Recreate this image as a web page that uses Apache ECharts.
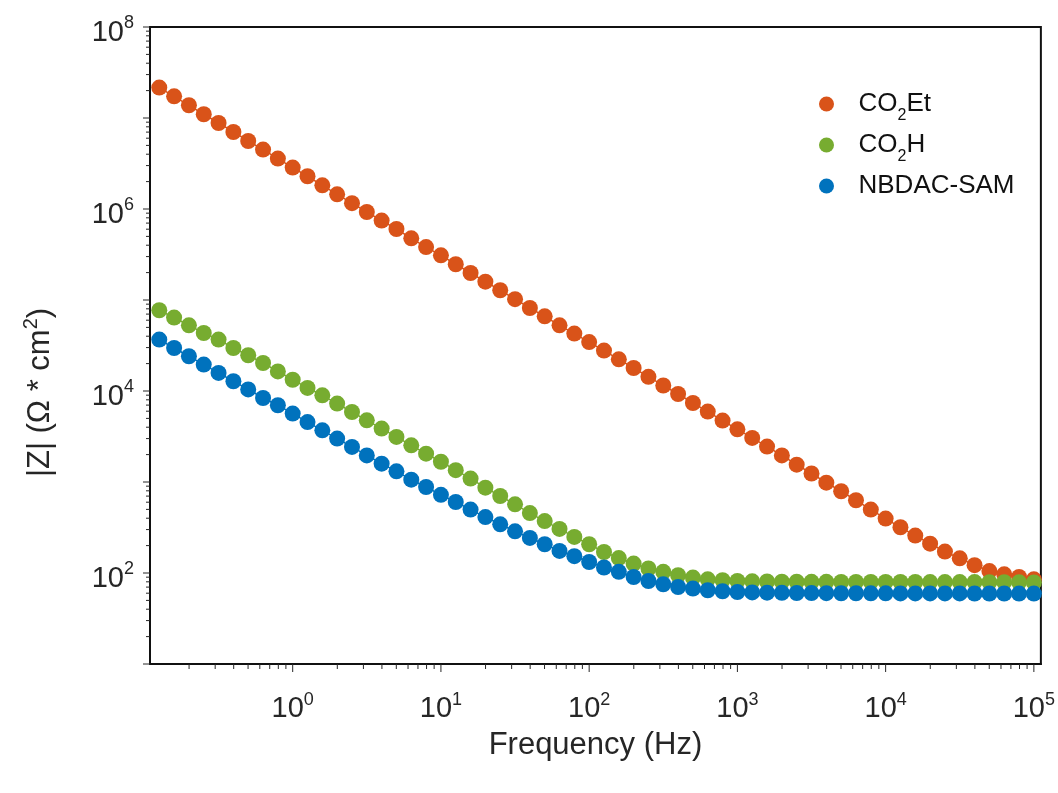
<!DOCTYPE html>
<html>
<head>
<meta charset="utf-8">
<script src="https://cdn.jsdelivr.net/npm/echarts@6/dist/echarts.min.js"></script>
<style>
html,body{margin:0;padding:0;background:#fff;}
#chart{width:1058px;height:793px;}
</style>
</head>
<body>
<div id="chart"></div>
<script>
// Frequency sweep (Hz)
const frequency = [
  0.1259, 0.1585, 0.1995, 0.2512, 0.3162, 0.3981, 0.5012, 0.6310, 0.7943, 1,
  1.259, 1.585, 1.995, 2.512, 3.162, 3.981, 5.012, 6.310, 7.943, 10,
  12.59, 15.85, 19.95, 25.12, 31.62, 39.81, 50.12, 63.10, 79.43, 100,
  125.9, 158.5, 199.5, 251.2, 316.2, 398.1, 501.2, 631.0, 794.3, 1000,
  1259, 1585, 1995, 2512, 3162, 3981, 5012, 6310, 7943, 10000,
  12589, 15849, 19953, 25119, 31623, 39811, 50119, 63096, 79433, 100000
];
// |Z| values (Ohm * cm^2)
const zCO2Et = [
  2.16e7, 1.73e7, 1.38e7, 1.10e7, 8.81e6, 7.02e6, 5.59e6, 4.50e6, 3.58e6, 2.85e6,
  2.29e6, 1.82e6, 1.45e6, 1.16e6, 9.27e5, 7.46e5, 6.03e5, 4.76e5, 3.82e5, 3.10e5,
  2.47e5, 1.98e5, 1.59e5, 1.28e5, 1.02e5, 8.17e4, 6.62e4, 5.27e4, 4.28e4, 3.45e4,
  2.78e4, 2.23e4, 1.79e4, 1.43e4, 1.15e4, 9.27e3, 7.38e3, 5.94e3, 4.73e3, 3.79e3,
  3.05e3, 2.45e3, 1.96e3, 1.55e3, 1.24e3, 984, 791, 630, 498, 396,
  318, 258, 210, 172, 145, 122, 105, 96.8, 90.4, 85.3
];
const zCO2H = [
  7.71e4, 6.41e4, 5.27e4, 4.34e4, 3.67e4, 2.97e4, 2.47e4, 2.03e4, 1.64e4, 1.33e4,
  1.08e4, 8.97e3, 7.28e3, 5.88e3, 4.76e3, 3.86e3, 3.13e3, 2.53e3, 2.05e3, 1.67e3,
  1.35e3, 1.09e3, 867, 702, 569, 456, 372, 305, 249, 207,
  170, 146, 127, 112, 103, 94.4, 89.0, 85.3, 83.2, 81.7,
  81.0, 80.6, 80.3, 80.1, 80.0, 79.9, 79.8, 79.8, 79.7, 79.7,
  79.6, 79.6, 79.5, 79.5, 79.4, 79.4, 79.3, 79.2, 79.0, 78.7
];
const zNBDAC = [
  3.67e4, 2.97e4, 2.41e4, 1.95e4, 1.58e4, 1.28e4, 1.04e4, 8.38e3, 6.97e3, 5.65e3,
  4.56e3, 3.70e3, 3.00e3, 2.43e3, 1.96e3, 1.59e3, 1.31e3, 1.06e3, 881, 723,
  603, 498, 412, 343, 287, 243, 207, 175, 153, 132,
  115, 103, 90.4, 81.7, 75.2, 70.2, 67.4, 64.6, 63.0, 61.8,
  61.2, 60.8, 60.5, 60.3, 60.1, 60.0, 59.9, 59.9, 59.8, 59.8,
  59.7, 59.7, 59.6, 59.6, 59.6, 59.5, 59.5, 59.5, 59.4, 59.4
];
const seriesNames = ['CO2Et', 'CO2H', 'NBDAC-SAM'];
const legendLabels = {'CO2Et': '{b|CO}{sub|2}{b|Et}', 'CO2H': '{b|CO}{sub|2}{b|H}', 'NBDAC-SAM': '{b|NBDAC-SAM}'};
const colors = ['#D95319', '#77AC30', '#0072BD'];
const xRange = [0.109, 111500];
const yRange = [10, 1e8];

const FONT = 'Liberation Sans, Arial, Helvetica, sans-serif';
const TXT = '#262626';

function pairs(ys) { return frequency.map((f, i) => [f, ys[i]]); }

function logTicks(lo, hi) {
  const out = [];
  for (let d = Math.floor(Math.log10(lo)); d <= Math.ceil(Math.log10(hi)); d++) {
    for (let m = 1; m <= 9; m++) {
      const v = m * Math.pow(10, d);
      if (v >= lo * 0.99999 && v <= hi * 1.00001) out.push([v, m === 1 ? 1 : 0]);
    }
  }
  return out;
}
const xTickData = logTicks(xRange[0], xRange[1]).map(t => [t[0], yRange[0], t[1]]);
const yTickData = logTicks(yRange[0], yRange[1]).map(t => [xRange[0], t[0], t[1]]);

function powLabel(v, evenOnly) {
  const n = Math.round(Math.log10(v));
  if (Math.abs(Math.log10(v) - n) > 1e-6) return '';
  if (evenOnly && n % 2 !== 0) return '';
  return '{b|10}{s|' + n + '}';
}
const labelRich = {
  b: {fontSize: 29, lineHeight: 36, fontFamily: FONT, color: TXT},
  s: {fontSize: 18, lineHeight: 18, verticalAlign: 'top', fontFamily: FONT, color: TXT}
};

const chart = echarts.init(document.getElementById('chart'), null, {renderer: 'canvas'});
const option = {
  backgroundColor: '#fff',
  animation: false,
  grid: {left: 150, right: 17, top: 27, bottom: 129, show: true, borderColor: '#111', borderWidth: 2, containLabel: false},
  legend: {
    data: seriesNames,
    orient: 'vertical',
    left: 814, top: 79,
    icon: 'circle',
    itemWidth: 54, itemHeight: 15,
    itemGap: 1,
    formatter: n => legendLabels[n],
    textStyle: {
      fontFamily: FONT, fontSize: 26, color: '#111', lineHeight: 40,
      rich: {
        b: {fontSize: 26, lineHeight: 40, fontFamily: FONT, color: '#111'},
        sub: {fontSize: 16, lineHeight: 14, verticalAlign: 'bottom', fontFamily: FONT, color: '#111'}
      }
    }
  },
  xAxis: {
    type: 'log', logBase: 10, min: xRange[0], max: xRange[1],
    axisLine: {show: true, lineStyle: {color: '#111', width: 2}},
    axisTick: {show: false}, minorTick: {show: false},
    splitLine: {show: false}, minorSplitLine: {show: false},
    axisLabel: {margin: 27, formatter: v => powLabel(v, false), rich: labelRich},
    name: 'Frequency (Hz)', nameLocation: 'middle', nameGap: 66,
    nameTextStyle: {fontSize: 31, fontFamily: FONT, color: TXT}
  },
  yAxis: {
    type: 'log', logBase: 10, min: yRange[0], max: yRange[1],
    axisLine: {show: true, lineStyle: {color: '#111', width: 2}},
    axisTick: {show: false}, minorTick: {show: false},
    splitLine: {show: false}, minorSplitLine: {show: false},
    axisLabel: {margin: 16, padding: [11, 0, 0, 0], formatter: v => powLabel(v, true), rich: labelRich},
    name: '|Z| (Ω * cm{sup|2})', nameLocation: 'middle', nameGap: 91,
    nameTextStyle: {
      fontSize: 31, fontFamily: FONT, color: TXT, lineHeight: 38, padding: [0, 94, 0, 0],
      rich: {sup: {fontSize: 20, lineHeight: 20, verticalAlign: 'top', fontFamily: FONT, color: TXT}}
    }
  },
  series: [
    ...[zCO2Et, zCO2H, zNBDAC].map((ys, i) => ({
      name: seriesNames[i], type: 'line', data: pairs(ys),
      symbol: 'circle', symbolSize: 16, showSymbol: true,
      itemStyle: {color: colors[i]},
      lineStyle: {color: colors[i], width: 1.5},
      z: 2 + i
    })),
    {
      type: 'custom', name: 'xticks', data: xTickData, silent: true, z: 10, clip: false,
      renderItem: (params, api) => {
        const p = api.coord([api.value(0), yRange[0]]);
        const len = api.value(2) ? 8 : 5;
        return {type: 'line', shape: {x1: p[0], y1: p[1], x2: p[0], y2: p[1] + len}, style: {stroke: TXT, lineWidth: 1}};
      }
    },
    {
      type: 'custom', name: 'yticks', data: yTickData, silent: true, z: 10, clip: false,
      renderItem: (params, api) => {
        const p = api.coord([xRange[0], api.value(1)]);
        const len = api.value(2) ? 7 : 4;
        return {type: 'line', shape: {x1: p[0], y1: p[1], x2: p[0] - len, y2: p[1]}, style: {stroke: TXT, lineWidth: 1}};
      }
    }
  ]
};
chart.setOption(option);
</script>
</body>
</html>
